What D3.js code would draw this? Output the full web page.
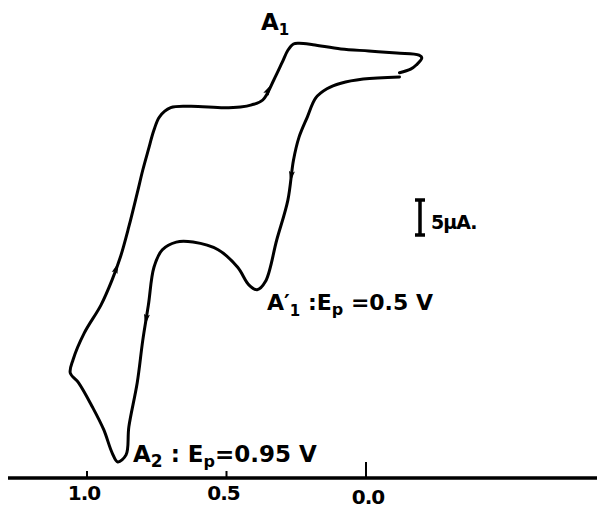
<!DOCTYPE html>
<html>
<head>
<meta charset="utf-8">
<script src="https://cdn.jsdelivr.net/npm/d3@7"></script>
<style>
  body { margin: 0; background: #fff; }
  svg { display: block; }
  .lbl { font-family: "DejaVu Sans", sans-serif; font-weight: bold; fill: #000; }
</style>
</head>
<body>
<svg id="chart" width="597" height="509"></svg>
<script>
// potential (V) of each traced point, starting at the switching tip near 0 V
const potential = [
  -0.12, -0.16, -0.18, -0.20, -0.19, -0.11, -0.01, 0.09, 0.19, 0.24,
  0.26, 0.28, 0.30, 0.33, 0.37, 0.41, 0.45, 0.51, 0.63, 0.70,
  0.74, 0.76, 0.78, 0.80, 0.82, 0.85, 0.88, 0.91, 0.95, 1.01,
  1.05, 1.06, 1.03, 0.98, 0.94, 0.91, 0.89, 0.86, 0.85, 0.82,
  0.80, 0.78, 0.76, 0.73, 0.68, 0.62, 0.53, 0.46, 0.42, 0.39,
  0.36, 0.32, 0.28, 0.26, 0.24, 0.21, 0.18, 0.14, 0.09, 0.01, -0.12
];
// current (µA) above the base line
const current = [
  57.9, 58.4, 59.0, 60.0, 60.4, 60.7, 61.0, 61.3, 61.9, 62.1,
  62.0, 61.1, 59.4, 56.9, 54.0, 53.3, 53.0, 52.9, 53.1, 52.9,
  51.6, 49.7, 46.9, 44.0, 40.7, 35.9, 31.6, 28.3, 24.7, 20.7,
  16.9, 15.0, 13.6, 10.1, 6.9, 3.6, 2.3, 3.3, 7.3, 13.6,
  19.7, 24.7, 30.1, 32.6, 33.7, 33.7, 32.6, 30.1, 27.6, 26.9,
  28.1, 34.0, 39.7, 45.4, 48.7, 51.6, 54.3, 55.6, 56.4, 57.0, 57.3
];
// scan-direction arrows sit between point i and i+1 (scan runs backwards through the list)
const arrowAt = [13.5, 26.5, 40.6, 52.6];
const tickValues = [1.0, 0.5, 0.0];
const tickLabels = ['1.0', '0.5', '0.0'];
const scaleBarValue = 5; // µA

const svg = d3.select('#chart');
const x = d3.scaleLinear().domain([1.0, 0.0]).range([87, 366]);
const y = d3.scaleLinear().domain([0, 5]).range([478, 443]); // 7 px per µA

const pts = potential.map((v, i) => [x(v), y(current[i])]);

// voltammogram trace
svg.append('path')
  .attr('d', d3.line().curve(d3.curveCatmullRom.alpha(0.5))(pts))
  .attr('fill', 'none')
  .attr('stroke', '#000')
  .attr('stroke-width', 3)
  .attr('stroke-linejoin', 'round')
  .attr('stroke-linecap', 'round');

// small arrow heads
arrowAt.forEach((t) => {
  const i = Math.floor(t), f = t - i;
  const a = pts[i], b = pts[i + 1];
  const px = a[0] + (b[0] - a[0]) * f, py = a[1] + (b[1] - a[1]) * f;
  const ang = Math.atan2(a[1] - b[1], a[0] - b[0]) * 180 / Math.PI; // towards point i
  svg.append('path')
    .attr('d', 'M6,0 L-5,-3 L-3,0 L-5,3 Z')
    .attr('transform', `translate(${px},${py}) rotate(${ang})`)
    .attr('fill', '#000');
});

// potential axis
svg.append('line')
  .attr('x1', 8).attr('x2', 597)
  .attr('y1', 478).attr('y2', 478)
  .attr('stroke', '#000').attr('stroke-width', 3.5);

svg.selectAll('.tick')
  .data(tickValues)
  .enter()
  .append('line')
  .attr('x1', (d) => x(d)).attr('x2', (d) => x(d))
  .attr('y1', (d) => d === 0 ? 462 : 471)
  .attr('y2', 478)
  .attr('stroke', '#000').attr('stroke-width', 2);

svg.selectAll('.tlabel')
  .data(tickValues)
  .enter()
  .append('text')
  .attr('class', 'lbl')
  .attr('x', (d) => x(d) + (d === 0 ? 2 : -3))
  .attr('y', (d) => d === 0 ? 504 : 500)
  .attr('text-anchor', 'middle')
  .attr('font-size', 20)
  .attr('letter-spacing', -1)
  .text((d, i) => tickLabels[i]);

// peak labels
const a1 = svg.append('text').attr('class', 'lbl').attr('x', 261).attr('y', 30).attr('font-size', 23);
a1.append('tspan').text('A');
a1.append('tspan').attr('dy', 5).attr('font-size', 15).text('1');

const a1p = svg.append('text').attr('class', 'lbl').attr('x', 267).attr('y', 310).attr('font-size', 22);
a1p.append('tspan').text('A\u2032');
a1p.append('tspan').attr('dy', 6).attr('font-size', 15).text('1');
a1p.append('tspan').attr('dy', -6).text(' :E');
a1p.append('tspan').attr('dy', 5).attr('font-size', 16).text('p');
a1p.append('tspan').attr('dy', -5).text(' =0.5 V');

const a2 = svg.append('text').attr('class', 'lbl').attr('x', 133).attr('y', 462).attr('font-size', 23);
a2.append('tspan').text('A');
a2.append('tspan').attr('dy', 5).attr('font-size', 17).text('2');
a2.append('tspan').attr('dy', -5).text(' : E');
a2.append('tspan').attr('dy', 5).attr('font-size', 16).text('p');
a2.append('tspan').attr('dy', -5).text('=0.95 V');

// 5 µA scale bar
const barTop = 200, barX = 420;
const barLen = y(0) - y(scaleBarValue);
svg.append('path')
  .attr('d', `M${barX - 5},${barTop} H${barX + 5} M${barX},${barTop} V${barTop + barLen} M${barX - 5},${barTop + barLen} H${barX + 5}`)
  .attr('stroke', '#000').attr('stroke-width', 3.5).attr('fill', 'none');
svg.append('text').attr('class', 'lbl')
  .attr('x', 431).attr('y', 229).attr('font-size', 19)
  .attr('letter-spacing', -1)
  .text(scaleBarValue + '\u00b5A.');
</script>
</body>
</html>
